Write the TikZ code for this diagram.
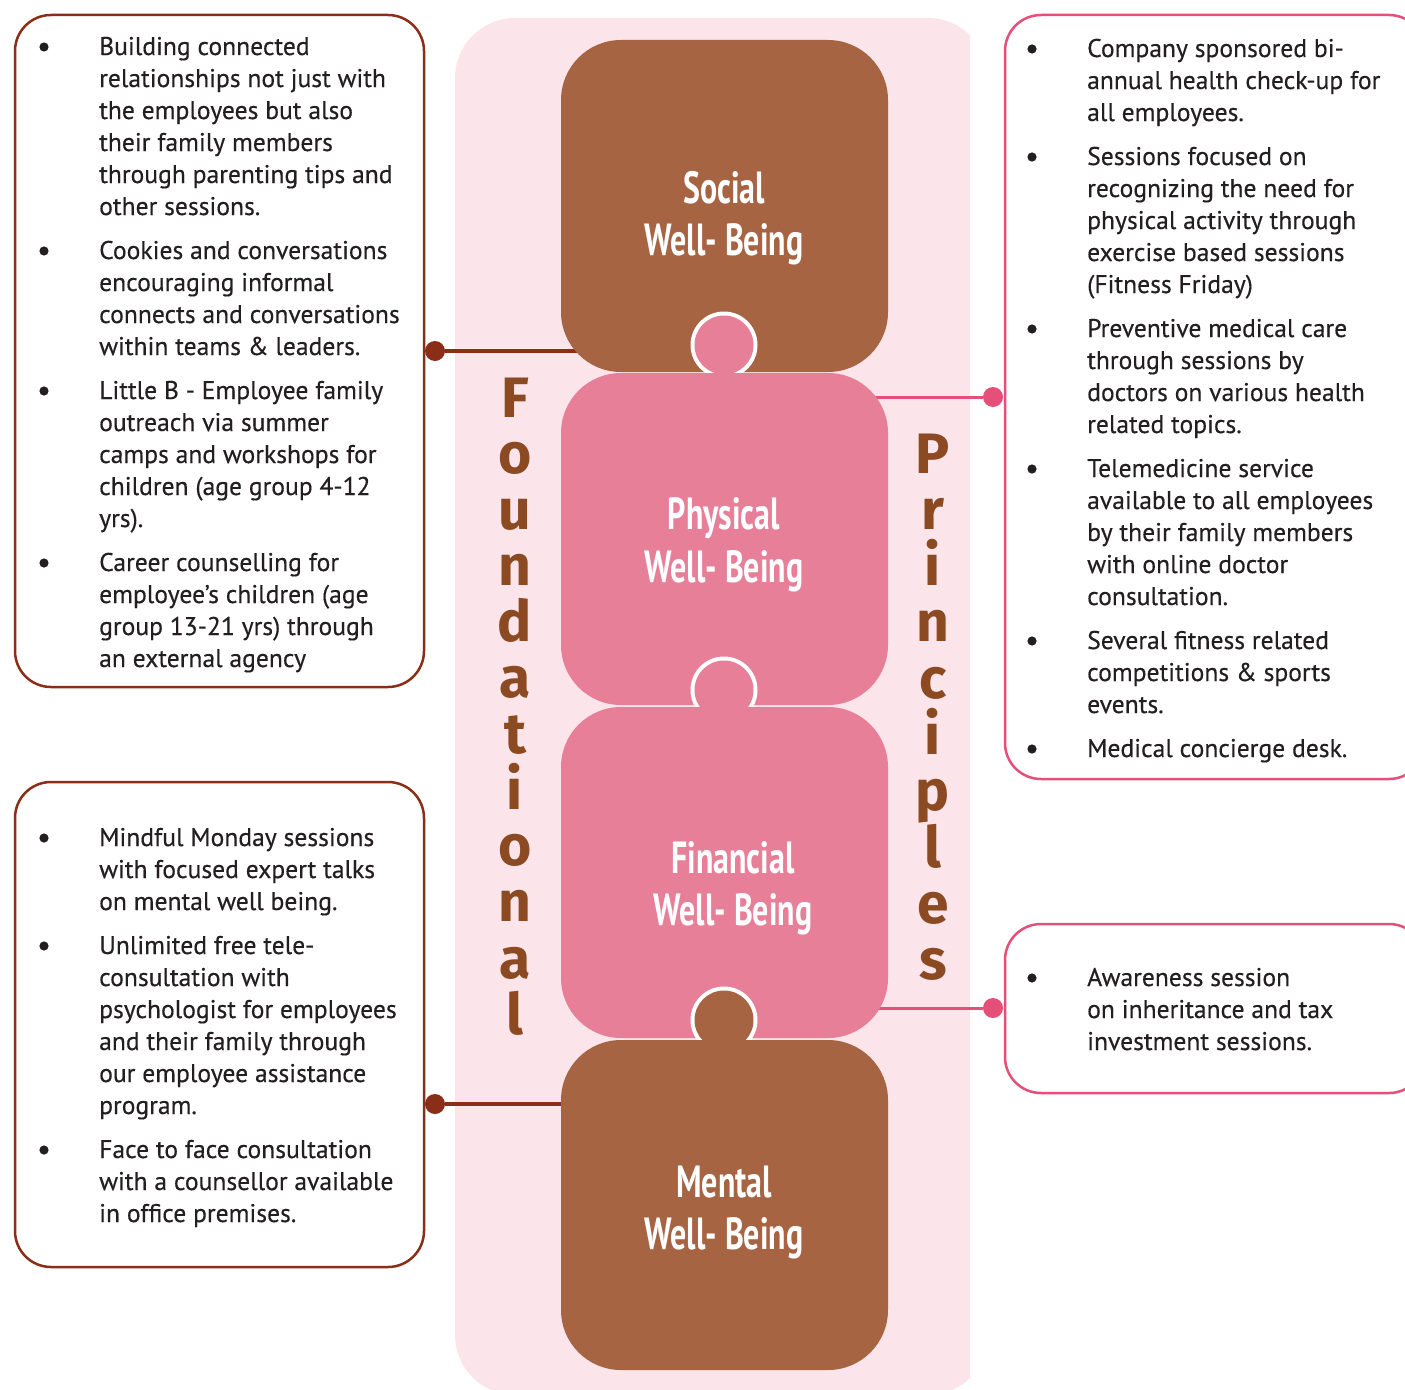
\documentclass[tikz,border=0pt]{standalone}
\usepackage{fontspec}
\setmainfont{PT Sans}[FakeBold=0.35]
\newfontfamily\titlefont{PT Sans}[FakeStretch=0.71]
\newfontfamily\vfont{Fira Sans}
\usetikzlibrary{calc}

\definecolor{panel}{HTML}{FBE5EA}
\definecolor{brownbox}{HTML}{A66442}
\definecolor{pinkbox}{HTML}{E77F99}
\definecolor{letter}{HTML}{8B4A22}
\definecolor{darkline}{HTML}{8A2E18}
\definecolor{pinkline}{HTML}{E4507A}
\definecolor{ink}{HTML}{231F20}

% one bulleted paragraph: name, x of text, first baseline, lines
\newcommand\blist[4]{%
  \fill[ink] (#2-55,#3-8) circle (4.6);
  \foreach \ln [count=\i from 0] in {#4}{
    \node[txt] (#1-\i) at (#2,{#3+32*\i}) {\ln};
  }
}

\begin{document}
\begin{tikzpicture}[x=1pt,y=-1pt,
  piece/.style={minimum width=327pt, minimum height=332pt, rounded corners=60pt, inner sep=0pt, draw=none},
  ring/.style={fill=white},
  title/.style={anchor=base, inner sep=0pt, text=white, font=\titlefont\bfseries\fontsize{45}{50}\selectfont},
  vletter/.style={anchor=base, inner sep=0pt, text=letter, font=\vfont\bfseries\fontsize{57}{60}\selectfont},
  lbox/.style={draw=darkline, line width=2.5pt, rounded corners=36pt, fill=white, inner sep=0pt},
  rbox/.style={draw=pinkline, line width=2.5pt, rounded corners=36pt, fill=white, inner sep=0pt},
  ldot/.style={circle, fill=darkline, minimum size=20pt, inner sep=0pt},
  rdot/.style={circle, fill=pinkline, minimum size=20pt, inner sep=0pt},
  lconn/.style={draw=darkline, line width=3.2pt},
  rconn/.style={draw=pinkline, line width=3pt},
  txt/.style={anchor=base west, inner sep=0pt, text=ink, font=\fontsize{25.6}{30}\selectfont}
]
\clip (0,0) rectangle (1405,1389);

% background panel behind the puzzle column
\begin{scope}
  \clip (0,0) rectangle (970,1389);
  \fill[panel, rounded corners=60pt] (455,18) rectangle (988,1395);
\end{scope}

% side boxes
\node[lbox, minimum width=409pt, minimum height=672pt] (lt) at (219.5,351) {};
\node[lbox, minimum width=409pt, minimum height=485pt] (lb) at (219.5,1024.5) {};
\node[rbox, minimum width=420pt, minimum height=764pt] (rt) at (1215,397) {};
\node[rbox, minimum width=420pt, minimum height=169pt] (rb) at (1215,1008.5) {};

% connector dots
\node[ldot] (dlt) at (435,351) {};
\node[ldot] (dlb) at (435,1104) {};
\node[rdot] (drt) at (993,397) {};
\node[rdot] (drb) at (993,1008) {};

% coordinates where the connectors reach the pieces
\coordinate (clt) at (600,351);
\coordinate (clb) at (600,1104);
\coordinate (crt) at (850,397);
\coordinate (crb) at (850,1008);

\draw[lconn] (dlt) -- (clt);
\draw[lconn] (dlb) -- (clb);
\draw[rconn] (drt) -- (crt);
\draw[rconn] (drb) -- (crb);

% puzzle pieces, drawn top to bottom with their knobs
\node[piece, fill=brownbox] (social) at (724.5,206) {};
\fill[ring] (724,345) circle (33.5);
\node[piece, fill=pinkbox] (physical) at (724.5,539) {};
\fill[pinkbox] (724,345) circle (29.5);
\fill[ring] (724,690) circle (33.5);
\node[piece, fill=pinkbox, minimum height=331pt] (financial) at (724.5,872.5) {};
\fill[pinkbox] (724,690) circle (29.5);
\fill[ring] (724,1020) circle (33.5);
\node[piece, fill=brownbox, minimum height=330pt] (mental) at (724.5,1205) {};
\fill[brownbox] (724,1020) circle (29.5);

% piece titles
\node[title] (t1a) at (724,203) {Social};
\node[title] (t1b) at (724,255) {Well- Being};
\node[title] (t2a) at (724,529) {Physical};
\node[title] (t2b) at (724,582) {Well- Being};
\node[title] (t3a) at (733,873) {Financial};
\node[title] (t3b) at (733,925) {Well- Being};
\node[title] (t4a) at (724,1197) {Mental};
\node[title] (t4b) at (724,1249) {Well- Being};

% vertical words
\foreach \c [count=\i from 0] in {F,o,u,n,d,a,t,i,o,n,a,l}
  \node[vletter] (fo\i) at (515,{417+56.1*\i}) {\c};
\foreach \c [count=\i from 0] in {P,r,i,n,c,i,p,l,e,s}
  \node[vletter] (pr\i) at (933,{473+56.3*\i}) {\c};

% left upper box text
\blist{la}{99}{55}{Building connected,relationships not just with,the employees but also,their family members,through parenting tips and,other sessions.}
\blist{lb}{99}{259}{Cookies and conversations,encouraging informal,connects and conversations,within teams \& leaders.}
\blist{lc}{99}{399}{Little B - Employee family,outreach via summer,camps and workshops for,children (age group 4-12,yrs).}
\blist{ld}{99}{571}{Career counselling for,employee’s children (age,group 13-21 yrs) through,an external agency}

% left lower box text
\blist{le}{99}{846}{Mindful Monday sessions,with focused expert talks,on mental well being.}
\blist{lf}{99}{954}{Unlimited free tele-,consultation with,psychologist for employees,and their family through,our employee assistance,program.}
\blist{lg}{99}{1158}{Face to face consultation,with a counsellor available,in office premises.}

% right upper box text
\blist{ra}{1087}{57}{Company sponsored bi-,annual health check-up for,all employees.}
\blist{rb}{1087}{165}{Sessions focused on,recognizing the need for,physical activity through,exercise based sessions,(Fitness Friday)}
\blist{rc}{1087}{337}{Preventive medical care,through sessions by,doctors on various health,related topics.}
\blist{rd}{1087}{477}{Telemedicine service,available to all employees,by their family members,with online doctor,consultation.}
\blist{re}{1087}{649}{Several fitness related,competitions \& sports,events.}
\blist{rf}{1087}{757}{Medical concierge desk.}

% right lower box text
\blist{rg}{1087}{986}{Awareness session,on inheritance and tax,investment sessions.}
\end{tikzpicture}
\end{document}
